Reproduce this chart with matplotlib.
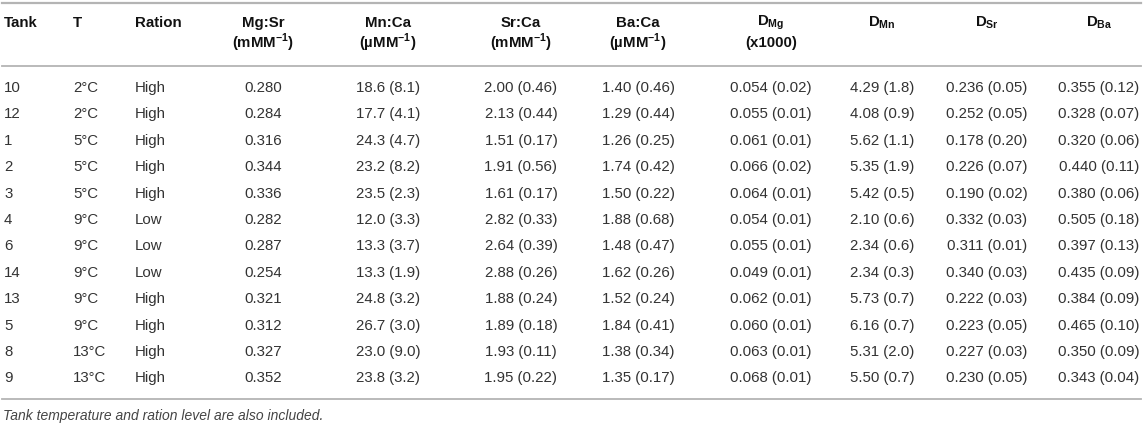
import matplotlib
matplotlib.use('Agg')
import matplotlib.pyplot as plt
from matplotlib.lines import Line2D

plt.rcParams['font.family'] = ['Liberation Sans', 'DejaVu Sans']
plt.rcParams['mathtext.fontset'] = 'custom'
plt.rcParams['mathtext.rm'] = 'Liberation Sans'
plt.rcParams['mathtext.bf'] = 'Liberation Sans:bold'

# table contents
headers = ['Tank', 'T', 'Ration',
           'Mg:Sr\n(mMM$^{\\mathbf{-1}}$)', 'Mn:Ca\n(\u00b5MM$^{\\mathbf{-1}}$)',
           'Sr:Ca\n(mMM$^{\\mathbf{-1}}$)', 'Ba:Ca\n(\u00b5MM$^{\\mathbf{-1}}$)',
           'D$_{\\mathbf{Mg}}$\n(x1000)', 'D$_{\\mathbf{Mn}}$',
           'D$_{\\mathbf{Sr}}$', 'D$_{\\mathbf{Ba}}$']

tanks = ['10', '12', '1', '2', '3', '4', '6', '14', '13', '5', '8', '9']
temps = ['2°C', '2°C', '5°C', '5°C', '5°C', '9°C', '9°C', '9°C', '9°C', '9°C',
         '13°C', '13°C']
rations = ['High', 'High', 'High', 'High', 'High', 'Low', 'Low', 'Low',
           'High', 'High', 'High', 'High']
mg_sr = ['0.280', '0.284', '0.316', '0.344', '0.336', '0.282', '0.287',
         '0.254', '0.321', '0.312', '0.327', '0.352']
mn_ca = ['18.6 (8.1)', '17.7 (4.1)', '24.3 (4.7)', '23.2 (8.2)', '23.5 (2.3)',
         '12.0 (3.3)', '13.3 (3.7)', '13.3 (1.9)', '24.8 (3.2)', '26.7 (3.0)',
         '23.0 (9.0)', '23.8 (3.2)']
sr_ca = ['2.00 (0.46)', '2.13 (0.44)', '1.51 (0.17)', '1.91 (0.56)',
         '1.61 (0.17)', '2.82 (0.33)', '2.64 (0.39)', '2.88 (0.26)',
         '1.88 (0.24)', '1.89 (0.18)', '1.93 (0.11)', '1.95 (0.22)']
ba_ca = ['1.40 (0.46)', '1.29 (0.44)', '1.26 (0.25)', '1.74 (0.42)',
         '1.50 (0.22)', '1.88 (0.68)', '1.48 (0.47)', '1.62 (0.26)',
         '1.52 (0.24)', '1.84 (0.41)', '1.38 (0.34)', '1.35 (0.17)']
d_mg = ['0.054 (0.02)', '0.055 (0.01)', '0.061 (0.01)', '0.066 (0.02)',
        '0.064 (0.01)', '0.054 (0.01)', '0.055 (0.01)', '0.049 (0.01)',
        '0.062 (0.01)', '0.060 (0.01)', '0.063 (0.01)', '0.068 (0.01)']
d_mn = ['4.29 (1.8)', '4.08 (0.9)', '5.62 (1.1)', '5.35 (1.9)', '5.42 (0.5)',
        '2.10 (0.6)', '2.34 (0.6)', '2.34 (0.3)', '5.73 (0.7)', '6.16 (0.7)',
        '5.31 (2.0)', '5.50 (0.7)']
d_sr = ['0.236 (0.05)', '0.252 (0.05)', '0.178 (0.20)', '0.226 (0.07)',
        '0.190 (0.02)', '0.332 (0.03)', '0.311 (0.01)', '0.340 (0.03)',
        '0.222 (0.03)', '0.223 (0.05)', '0.227 (0.03)', '0.230 (0.05)']
d_ba = ['0.355 (0.12)', '0.328 (0.07)', '0.320 (0.06)', '0.440 (0.11)',
        '0.380 (0.06)', '0.505 (0.18)', '0.397 (0.13)', '0.435 (0.09)',
        '0.384 (0.09)', '0.465 (0.10)', '0.350 (0.09)', '0.343 (0.04)']
footnote = 'Tank temperature and ration level are also included.'

columns = [tanks, temps, rations, mg_sr, mn_ca, sr_ca, ba_ca,
           d_mg, d_mn, d_sr, d_ba]

# layout in pixels (x from left, y from top)
W, H = 1143, 426
col_x = [4, 73, 135, 263, 388, 521, 638, 771, 882, 987, 1099]
col_ha = ['left', 'left', 'left'] + ['center'] * 8
row0, row_step = 88, 26.4
head_y = 23
line_color = '#b4b4b4'
text_color = '#333333'

fig = plt.figure(figsize=(W / 100, H / 100), dpi=100)


def fx(x):
    return x / W


def fy(y):
    return 1 - y / H


def hline(y, lw):
    fig.add_artist(Line2D([fx(2), fx(1141)], [fy(y), fy(y)],
                          color=line_color, lw=lw))


hline(3, 1.6)
hline(66, 1.3)
hline(399, 1.3)

for x, ha, h in zip(col_x, col_ha, headers):
    lines = h.split('\n')
    for k, s in enumerate(lines):
        fig.text(fx(x), fy(head_y + k * 19.5), s, ha=ha, va='center',
                 fontsize=10.8, fontweight='bold', color='#111111')

for x, ha, col in zip(col_x, col_ha, columns):
    for i, s in enumerate(col):
        fig.text(fx(x), fy(row0 + i * row_step), s, ha=ha, va='center',
                 fontsize=10.8, color=text_color)

fig.text(fx(3), fy(416), footnote, ha='left', va='center', fontsize=10,
         style='italic', color='#444444')

fig.savefig('out.png', dpi=100)
